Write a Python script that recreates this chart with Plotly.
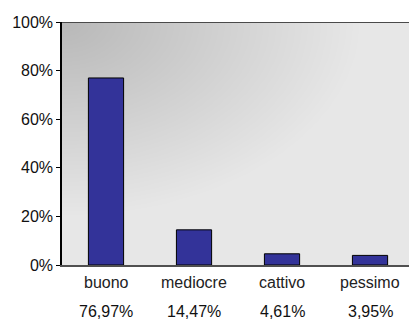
import numpy as np
import plotly.graph_objects as go

# Survey judgement shares (percent)
categories = ["buono", "mediocre", "cattivo", "pessimo"]
shares = [76.97, 14.47, 4.61, 3.95]
y_ticks = [0, 20, 40, 60, 80, 100]
y_tick_text = ["0%", "20%", "40%", "60%", "80%", "100%"]

FONT = "Liberation Sans, Arial, sans-serif"
W, H = 409, 320
M_L, M_R, M_T, M_B = 62, 0, 22, 55
X_MIN, X_MAX = -0.5, 3.443

plot_w = W - M_L - M_R
plot_h = H - M_T - M_B

# Soft gray backdrop: darker in the upper-left corner, fading out to light gray
gx = np.linspace(X_MIN - 0.05, X_MAX + 0.05, 80)
gy = np.linspace(-2, 102, 80)
px = (gx - X_MIN) / (X_MAX - X_MIN) * plot_w
py = (100 - gy) / 100 * plot_h
PX, PY = np.meshgrid(px, py)
t = np.clip(np.sqrt((PX / 300.0) ** 2 + (PY / 195.0) ** 2), 0, 1)

x_pos = list(range(len(categories)))

fig = go.Figure()
fig.add_trace(go.Heatmap(
    x=gx, y=gy, z=t, zmin=0, zmax=1, zsmooth="best",
    colorscale=[[0, "rgb(184,184,184)"], [1, "rgb(231,231,231)"]],
    showscale=False, hoverinfo="skip",
))
fig.add_trace(go.Bar(
    x=x_pos, y=shares, width=0.4,
    marker=dict(color="#333399", line=dict(color="black", width=1)),
    hoverinfo="skip",
))

# Category names and formatted percentages under each bar
for xp, name, v in zip(x_pos, categories, shares):
    fig.add_annotation(x=xp, y=0, xref="x", yref="paper", yshift=-17,
                       text=name, showarrow=False, yanchor="middle",
                       font=dict(family=FONT, size=16, color="#222222"))
    fig.add_annotation(x=xp, y=0, xref="x", yref="paper", yshift=-46,
                       text=f"{v:.2f}".replace(".", ",") + "%", showarrow=False,
                       yanchor="middle",
                       font=dict(family=FONT, size=16, color="#111111"))

# Frame line along the top of the plot area
fig.add_shape(type="line", xref="paper", yref="y", x0=0, x1=1, y0=100, y1=100,
              line=dict(color="#4a4a4a", width=2))

fig.update_layout(
    width=W, height=H,
    margin=dict(l=M_L, r=M_R, t=M_T, b=M_B, pad=0),
    paper_bgcolor="white", plot_bgcolor="white",
    showlegend=False,
    font=dict(family=FONT, size=16, color="#111111"),
)
fig.update_xaxes(range=[X_MIN, X_MAX], showticklabels=False, ticks="",
                 showgrid=False, zeroline=False, showline=True,
                 linecolor="#505050", linewidth=2)
fig.update_yaxes(range=[0, 100], tickvals=y_ticks, ticktext=y_tick_text,
                 ticks="outside", ticklen=4, tickcolor="black", tickwidth=1,
                 showgrid=False, zeroline=False, showline=True,
                 linecolor="black", linewidth=1.5,
                 tickfont=dict(family=FONT, size=16, color="#111111"))

fig.write_html("out.html")
